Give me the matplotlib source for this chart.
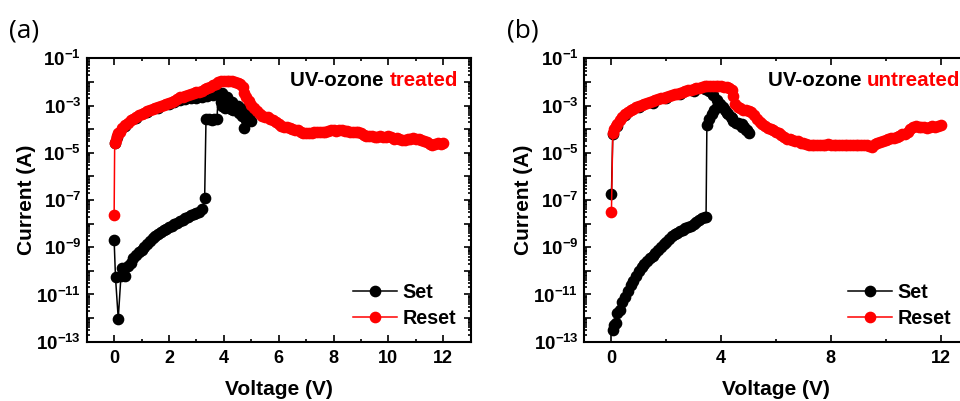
import numpy as np
import matplotlib
matplotlib.use('Agg')
import matplotlib.pyplot as plt
from matplotlib.ticker import LogLocator, MultipleLocator, FuncFormatter, NullFormatter

plt.rcParams['font.family'] = ['Liberation Sans', 'DejaVu Sans']
plt.rcParams['font.weight'] = 'bold'
plt.rcParams['mathtext.fontset'] = 'custom'
plt.rcParams['mathtext.rm'] = 'Liberation Sans:bold'
plt.rcParams['mathtext.bf'] = 'Liberation Sans:bold'
plt.rcParams['mathtext.default'] = 'bf'

# ---------------- data (log10 of current in A) ----------------
set_a_V = [0.00, 0.05, 0.15, 0.25, 0.30, 0.40, 0.50, 0.60, 0.70, 0.80, 0.90, 1.00, 1.10, 1.20,
           1.30, 1.40, 1.50, 1.60, 1.70, 1.80, 1.90, 2.00, 2.10, 2.20, 2.30, 2.40, 2.50, 2.60,
           2.70, 2.80, 2.90, 3.00, 3.10, 3.20, 3.30, 3.35, 3.45, 3.55, 3.65, 3.75, 3.80, 3.85,
           3.90, 3.95, 4.05, 4.15, 4.25, 4.35, 4.45, 4.55, 4.65, 4.72, 4.80, 4.90, 5.00,
           4.90, 4.70, 4.50, 4.30, 4.10, 3.95, 3.80, 3.60, 3.40, 3.20, 3.00, 2.80, 2.60, 2.40,
           2.20, 2.00, 1.60, 1.20, 0.80, 0.40, 0.10, 0.03]
set_a_logI = [-8.70, -10.28, -12.02, -10.20, -9.88, -10.22, -9.78, -9.65, -9.47, -9.35, -9.22,
              -9.10, -8.98, -8.86, -8.74, -8.63, -8.53, -8.44, -8.36, -8.28, -8.21, -8.14, -8.08,
              -8.02, -7.96, -7.90, -7.84, -7.76, -7.70, -7.64, -7.60, -7.55, -7.50, -7.40, -6.93,
              -3.55, -3.58, -3.60, -3.58, -3.55, -2.45, -2.55, -2.85, -3.00, -3.10, -3.08, -3.15,
              -3.20, -3.15, -3.30, -3.45, -3.95, -3.60, -3.55, -3.65,
              -3.35, -3.15, -3.00, -2.85, -2.65, -2.45, -2.48, -2.55, -2.58, -2.62, -2.66, -2.70,
              -2.74, -2.78, -2.86, -2.95, -3.10, -3.28, -3.52, -3.87, -4.35, -4.60]

reset_a_V = [0.00, 0.02, 0.05, 0.10, 0.15, 0.20, 0.30, 0.40, 0.50, 0.60, 0.70, 0.80, 0.90, 1.00,
             1.10, 1.20, 1.30, 1.40, 1.50, 1.60, 1.70, 1.80, 1.90, 2.00, 2.10, 2.20, 2.30, 2.40,
             2.50, 2.60, 2.70, 2.80, 2.90, 3.00, 3.10, 3.20, 3.30, 3.40, 3.50, 3.60, 3.70, 3.80,
             3.90, 4.00, 4.10, 4.20, 4.30, 4.40, 4.50, 4.60, 4.70, 4.75, 4.80, 4.90, 5.00, 5.10,
             5.20, 5.30, 5.40, 5.50, 5.60, 5.70, 5.80, 5.90, 6.00, 6.10, 6.20, 6.30, 6.40, 6.50,
             6.60, 6.70, 6.80, 6.90, 7.00, 7.10, 7.20, 7.30, 7.40, 7.50, 7.60, 7.70, 7.80, 7.90,
             8.00, 8.10, 8.20, 8.30, 8.40, 8.50, 8.60, 8.70, 8.80, 8.90, 9.00, 9.10, 9.20, 9.30,
             9.40, 9.50, 9.60, 9.70, 9.80, 9.90, 10.00, 10.10, 10.20, 10.30, 10.40, 10.50, 10.60,
             10.70, 10.80, 10.90, 11.00, 11.10, 11.20, 11.30, 11.40, 11.50, 11.60, 11.70, 11.80,
             11.90, 12.00]
reset_a_logI = [-7.64, -4.60, -4.45, -4.30, -4.18, -4.10, -3.95, -3.82, -3.72, -3.63, -3.55,
                -3.48, -3.42, -3.36, -3.30, -3.24, -3.19, -3.14, -3.10, -3.06, -3.02, -2.98,
                -2.94, -2.90, -2.86, -2.80, -2.72, -2.65, -2.63, -2.60, -2.55, -2.50, -2.47,
                -2.44, -2.42, -2.38, -2.32, -2.26, -2.20, -2.13, -2.07, -2.02, -1.98, -1.95,
                -1.95, -1.96, -1.98, -2.00, -2.03, -2.08, -2.20, -2.45, -2.62, -2.80, -2.98,
                -3.12, -3.22, -3.35, -3.45, -3.48, -3.50, -3.55, -3.62, -3.68, -3.78, -3.85,
                -3.90, -3.93, -3.97, -4.00, -4.03, -4.05, -4.10, -4.15, -4.17, -4.16, -4.18,
                -4.14, -4.12, -4.11, -4.10, -4.11, -4.09, -4.05, -4.04, -4.06, -4.03, -4.05,
                -4.08, -4.06, -4.10, -4.12, -4.10, -4.14, -4.18, -4.24, -4.27, -4.30, -4.31,
                -4.33, -4.32, -4.31, -4.35, -4.33, -4.30, -4.35, -4.40, -4.38, -4.42, -4.45,
                -4.47, -4.43, -4.42, -4.38, -4.40, -4.42, -4.45, -4.50, -4.55, -4.62, -4.66,
                -4.62, -4.60, -4.61, -4.60]

set_b_V = [0.06, 0.10, 0.15, 0.22, 0.30, 0.40, 0.50, 0.60, 0.70, 0.80, 0.90, 1.00, 1.10, 1.20,
           1.30, 1.40, 1.50, 1.60, 1.70, 1.80, 1.90, 2.00, 2.10, 2.20, 2.30, 2.40, 2.50, 2.60,
           2.70, 2.80, 2.90, 3.00, 3.10, 3.20, 3.30, 3.40, 3.45, 3.48, 3.55, 3.65, 3.75, 3.85,
           3.95, 4.05, 4.15, 4.25, 4.35, 4.45, 4.55, 4.65, 4.75, 4.85, 4.95, 5.02,
           4.90, 4.75, 4.60, 4.40, 4.20, 4.00, 3.85, 3.70, 3.55, 3.40, 3.00, 2.50, 2.00, 1.50,
           1.00, 0.50, 0.20, 0.05, 0.00]
set_b_logI = [-12.50, -12.30, -12.22, -11.80, -11.65, -11.30, -11.10, -10.85, -10.62, -10.45,
              -10.20, -10.00, -9.85, -9.72, -9.58, -9.47, -9.36, -9.24, -9.12, -9.00, -8.88,
              -8.76, -8.65, -8.54, -8.44, -8.38, -8.32, -8.25, -8.20, -8.15, -8.08, -8.03,
              -7.92, -7.85, -7.78, -7.74, -7.72, -3.83, -3.55, -3.35, -3.20, -3.05, -2.95,
              -3.05, -3.20, -3.35, -3.50, -3.65, -3.72, -3.80, -3.78, -3.92, -4.02, -4.18,
              -4.05, -3.90, -3.75, -3.52, -3.30, -3.00, -2.75, -2.55, -2.40, -2.30, -2.38,
              -2.53, -2.70, -2.88, -3.08, -3.42, -3.85, -4.20, -6.76]

reset_b_V = [0.00, 0.05, 0.10, 0.15, 0.20, 0.30, 0.40, 0.50, 0.60, 0.70, 0.80, 0.90, 1.00, 1.10,
             1.20, 1.30, 1.40, 1.50, 1.60, 1.70, 1.80, 1.90, 2.00, 2.10, 2.20, 2.30, 2.40, 2.50,
             2.60, 2.70, 2.80, 2.90, 3.00, 3.10, 3.20, 3.30, 3.40, 3.50, 3.60, 3.70, 3.80, 3.90,
             4.00, 4.10, 4.20, 4.30, 4.40, 4.45, 4.50, 4.60, 4.70, 4.80, 4.90, 5.00, 5.10, 5.20,
             5.30, 5.40, 5.50, 5.60, 5.70, 5.80, 5.90, 6.00, 6.10, 6.20, 6.30, 6.40, 6.50, 6.60,
             6.70, 6.80, 6.90, 7.00, 7.10, 7.20, 7.30, 7.40, 7.50, 7.60, 7.70, 7.80, 7.90, 8.00,
             8.10, 8.20, 8.30, 8.40, 8.50, 8.60, 8.70, 8.80, 8.90, 9.00, 9.10, 9.20, 9.30, 9.40,
             9.50, 9.60, 9.70, 9.80, 9.90, 10.00, 10.10, 10.20, 10.30, 10.40, 10.50, 10.60,
             10.70, 10.80, 10.90, 11.00, 11.10, 11.20, 11.30, 11.40, 11.50, 11.60, 11.70, 11.80,
             11.90, 12.00]
reset_b_logI = [-7.50, -4.15, -3.98, -3.87, -3.80, -3.62, -3.48, -3.37, -3.28, -3.20, -3.13,
                -3.07, -3.02, -2.97, -2.93, -2.89, -2.85, -2.81, -2.77, -2.73, -2.70, -2.66,
                -2.63, -2.60, -2.56, -2.53, -2.50, -2.46, -2.43, -2.39, -2.36, -2.33, -2.30,
                -2.27, -2.24, -2.21, -2.19, -2.17, -2.16, -2.16, -2.17, -2.18, -2.19, -2.20,
                -2.22, -2.25, -2.35, -2.58, -2.95, -3.05, -3.12, -3.18, -3.20, -3.22, -3.27,
                -3.40, -3.58, -3.70, -3.80, -3.88, -3.95, -4.00, -4.05, -4.10, -4.15, -4.25,
                -4.35, -4.42, -4.40, -4.48, -4.50, -4.52, -4.60, -4.60, -4.63, -4.66, -4.67,
                -4.66, -4.67, -4.65, -4.68, -4.65, -4.64, -4.67, -4.68, -4.66, -4.67, -4.68,
                -4.66, -4.67, -4.68, -4.69, -4.66, -4.67, -4.68, -4.66, -4.65, -4.70, -4.75,
                -4.62, -4.58, -4.55, -4.50, -4.47, -4.42, -4.38, -4.36, -4.32, -4.28, -4.22,
                -4.20, -4.10, -3.98, -3.90, -3.88, -3.90, -3.92, -3.90, -3.95, -3.90, -3.88,
                -3.90, -3.86, -3.83]

panel_labels = ['(a)', '(b)']
tag_prefix = 'UV-ozone '
tag_words = ['treated', 'untreated']
legend_labels = ['Set', 'Reset']
x_major = [2, 4]

# ---------------- figure ----------------
fig = plt.figure(figsize=(9.6, 4.01), dpi=100)
W, H = 960, 401
ax_a = fig.add_axes([86.7 / W, 59.3 / H, 384 / W, 283.4 / H])
ax_b = fig.add_axes([584 / W, 59.3 / H, 384 / W, 283.4 / H])

RED = '#ff0000'


def ylab(v, pos):
    e = int(round(np.log10(v)))
    if e % 2 == 0:
        return ''
    return r'$\mathdefault{10^{%d}}$' % e


datasets = [
    (ax_a, set_a_V, set_a_logI, reset_a_V, reset_a_logI, x_major[0], 290.0, 0.998),
    (ax_b, set_b_V, set_b_logI, reset_b_V, reset_b_logI, x_major[1], 768.0, 0.992),
]

for i, (ax, sv, si, rv, ri, xm, tag_x, leg_x) in enumerate(datasets):
    ax.plot(sv, 10 ** np.array(si), '-o', color='black', ms=7.4, lw=1.1,
            label=legend_labels[0], zorder=3)
    ax.plot(rv, 10 ** np.array(ri), '-o', color=RED, mec=RED, mfc=RED, ms=7.4, lw=1.1,
            label=legend_labels[1], zorder=4)
    ax.set_yscale('log')
    ax.set_ylim(1e-13, 1e-1)
    ax.set_xlim(-1, 13)
    ax.xaxis.set_major_locator(MultipleLocator(xm))
    ax.xaxis.set_minor_locator(MultipleLocator(xm / 2))
    ax.yaxis.set_major_locator(LogLocator(base=10, numticks=30))
    ax.yaxis.set_minor_locator(LogLocator(base=10, subs=np.arange(2, 10), numticks=30))
    ax.yaxis.set_major_formatter(FuncFormatter(ylab))
    ax.yaxis.set_minor_formatter(NullFormatter())
    ax.tick_params(which='both', direction='in', top=True, right=True, width=1.2)
    ax.tick_params(which='major', length=4.8, pad=5)
    ax.tick_params(axis='x', which='major', labelsize=13, pad=6)
    ax.tick_params(axis='y', which='major', labelsize=13.5, pad=4)
    ax.tick_params(which='minor', length=2.4)
    for s in ax.spines.values():
        s.set_linewidth(1.5)
    ax.set_xlabel('Voltage (V)', fontsize=15, fontweight='bold')
    ax.set_ylabel('Current (A)', fontsize=15, fontweight='bold')
    ax.xaxis.set_label_coords(0.5, -0.135)
    ax.yaxis.set_label_coords(-0.133, 0.5)

    # annotation
    t1 = ax.text((tag_x - (86.7 if i == 0 else 584)) / 384, 0.921, tag_prefix,
                 transform=ax.transAxes, fontsize=14.8, fontweight='bold',
                 color='black', ha='left', va='center')
    ax.annotate(tag_words[i], xy=(1, 0), xycoords=t1, fontsize=14.8,
                fontweight='bold', color=RED, ha='left', va='bottom')

    ax.legend(loc='lower right', bbox_to_anchor=(leg_x, 0.0),
              frameon=False, fontsize=14.2, handlelength=2.2, handletextpad=0.3,
              labelspacing=0.33, borderpad=0.2, numpoints=1)

fig.text(9 / W, 1 - 31 / H, panel_labels[0], fontsize=19, fontweight='normal',
         family=['Open Sans', 'DejaVu Sans'], ha='left', va='center')
fig.text(507 / W, 1 - 31 / H, panel_labels[1], fontsize=19, fontweight='normal',
         family=['Open Sans', 'DejaVu Sans'], ha='left', va='center')

fig.savefig('out.png', dpi=100)
